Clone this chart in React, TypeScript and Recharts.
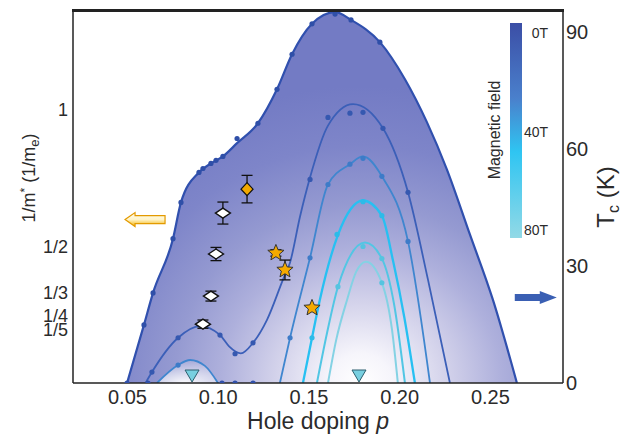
import React from 'react'
import { ComposedChart, Line, Area, Scatter, XAxis, YAxis, ErrorBar, ReferenceDot, Customized } from 'recharts'

// Tc (K) versus hole doping p, one contour per magnetic field (0T outermost)
const dome0T = [[0.0498, 0], [0.0591, 14.9], [0.0641, 23.1], [0.0751, 37.0], [0.0795, 46.3], [0.0894, 54.0], [0.096, 56.3], [0.1026, 58.1], [0.1104, 61.5], [0.1219, 66.6], [0.1324, 75.3], [0.1407, 84.3], [0.1517, 92.1], [0.1644, 95.1], [0.1732, 93.1], [0.1891, 87.4], [0.2029, 77.9], [0.215, 66.9], [0.226, 54.8], [0.2387, 38.1], [0.2514, 21.3], [0.2646, 0]]
const domeC1 = [[0.06, 0], [0.0635, 2.8], [0.0779, 11.6], [0.09, 14.6], [0.101, 12.3], [0.106, 9.4], [0.1125, 7.6], [0.1192, 10.3], [0.1269, 16.2], [0.1357, 26.5], [0.1396, 30.9], [0.1451, 42.7], [0.1506, 52.7], [0.1605, 66.0], [0.1743, 71.5], [0.1908, 65.3], [0.2046, 48.9], [0.2156, 26.5], [0.2277, 0]]
const lobeC2 = [[0.0663, 0], [0.0779, 4.6], [0.0845, 5.9], [0.0927, 4.4], [0.0999, 0]]
const domeC2 = [[0.134, 0], [0.1396, 11.6], [0.1506, 32.1], [0.1605, 50.9], [0.1726, 56.1], [0.1798, 58.1], [0.1902, 53.0], [0.2046, 36.3], [0.2167, 0]]
const domeC3 = [[0.1467, 0], [0.1517, 11.6], [0.156, 21.3], [0.166, 38.0], [0.1798, 46.8], [0.1902, 42.9], [0.1965, 31.0], [0.2025, 17.0], [0.2084, 0]]
const domeC4 = [[0.1544, 0], [0.16, 12.9], [0.166, 24.7], [0.1809, 36.0], [0.1902, 31.9], [0.197, 20.0], [0.2029, 0]]
const domeC5 = [[0.1605, 0], [0.165, 11.0], [0.171, 21.3], [0.176, 28.5], [0.1814, 31.1], [0.1902, 25.7], [0.1958, 13.6], [0.199, 0]]

// measured Tc points on each contour
const dots0T = [[0.0591, 14.9], [0.0641, 23.1], [0.0751, 37.0], [0.0795, 46.3], [0.0894, 54.0], [0.0916, 55.0], [0.096, 56.3], [0.0988, 57.1], [0.1026, 58.1], [0.1104, 62.7], [0.1219, 66.6], [0.1324, 75.3], [0.1407, 84.3], [0.1517, 92.1], [0.1644, 94.6], [0.1732, 93.1], [0.1891, 87.4]]
const dotsC1 = [[0.0635, 2.8], [0.0779, 11.6], [0.101, 12.3], [0.1093, 7.5], [0.1192, 10.3], [0.1506, 52.2], [0.1605, 68.1], [0.1726, 69.2], [0.1798, 69.4], [0.1908, 65.3], [0.2046, 48.9]]
const dotsC2 = [[0.0779, 4.6], [0.1396, 11.6], [0.1506, 32.1], [0.1605, 50.9], [0.1726, 56.1], [0.1798, 57.6], [0.1902, 53.0], [0.2046, 36.3]]
const dotsC3 = [[0.1517, 11.6], [0.1655, 38.1], [0.1798, 46.5], [0.1902, 42.9]]
const dotsC4 = [[0.166, 24.7], [0.1798, 35.0], [0.1902, 31.9], [0.1902, 25.7]]
const dotsZero = [[0.0498, 0], [0.0613, 0], [0.1021, 0], [0.1093, 0], [0.1192, 0]]
const triangles = [[0.0856, 0], [0.1776, 0]]

// 1/m* (left axis) with error
const whiteDiamonds = [[0.1026, 0.623, 0.04], [0.0988, 0.474, 0.024], [0.096, 0.321, 0.018], [0.0916, 0.219, 0.015]]
const orangeDiamonds = [[0.1159, 0.71, 0.05]]
const starsErr = [[0.1318, 0.478, 0.012], [0.1368, 0.416, 0.036]]
const starsNoErr = [[0.1517, 0.278]]

const pTicks = [0.05, 0.1, 0.15, 0.2, 0.25]
const tcTicks = [0, 30, 60, 90]
const massTicks = [0.2, 0.25, 1 / 3, 0.5, 1]
const massLabels = ['1/5', '1/4', '1/3', '1/2', '1']

const tc = (rows: number[][]) => rows.map(([p, T]) => ({ p, T }))
const mass = (rows: number[][]) => rows.map(([p, m, err]) => ({ p, m, err }))

const FONT = "'Liberation Sans', Arial, sans-serif"
const INK = '#2b2b2b'
const AXIS = { stroke: '#222', strokeWidth: 1.5 }

const dotShape = (fill: string) => (props: any) => <circle cx={props.cx} cy={props.cy} r={2.6} fill={fill} />

function Diamond(props: any) {
  const { cx, cy } = props
  return <polygon points={`${cx - 7.5},${cy} ${cx},${cy - 5} ${cx + 7.5},${cy} ${cx},${cy + 5}`} fill="#fff" stroke="#111" strokeWidth={1.4} />
}

function OrangeDiamond(props: any) {
  const { cx, cy } = props
  return <polygon points={`${cx - 6},${cy} ${cx},${cy - 6.5} ${cx + 6},${cy} ${cx},${cy + 6.5}`} fill="#f2a900" stroke="#111" strokeWidth={1.2} />
}

function Star(props: any) {
  const { cx, cy } = props
  const pts: string[] = []
  for (let i = 0; i < 10; i++) {
    const r = i % 2 === 0 ? 8.5 : 3.8
    const a = -Math.PI / 2 + (i * Math.PI) / 5
    pts.push(`${cx + r * Math.cos(a)},${cy + r * Math.sin(a)}`)
  }
  return <polygon points={pts.join(' ')} fill="#f5aa00" stroke="#333" strokeWidth={1} />
}

function Triangle(props: any) {
  const { cx, cy } = props
  return <polygon points={`${cx - 7},${cy - 13} ${cx + 7},${cy - 13} ${cx},${cy - 1}`} fill="#78cfe0" stroke="#2d5f6e" strokeWidth={1} />
}

function LeftArrow(props: any) {
  const { cx, cy } = props
  return (
    <path
      d={`M${cx - 20},${cy} L${cx - 10},${cy - 7} L${cx - 10},${cy - 4} L${cx + 20},${cy - 4} L${cx + 20},${cy + 4} L${cx - 10},${cy + 4} L${cx - 10},${cy + 7} Z`}
      fill="url(#arrowGold)"
      stroke="#e39a00"
      strokeWidth={1.2}
    />
  )
}

function RightArrow(props: any) {
  const { cx, cy } = props
  return (
    <path
      d={`M${cx + 21},${cy} L${cx + 4},${cy - 6.5} L${cx + 4},${cy - 3.5} L${cx - 21},${cy - 3.5} L${cx - 21},${cy + 3.5} L${cx + 4},${cy + 3.5} L${cx + 4},${cy + 6.5} Z`}
      fill="#3a5fb3"
    />
  )
}

function Annotations() {
  return (
    <g fontFamily={FONT} fill={INK}>
      <rect x={510} y={23} width={12} height={215} fill="url(#fieldBar)" />
      <text x={548} y={38} fontSize={14} textAnchor="end">0T</text>
      <text x={548} y={137} fontSize={14} textAnchor="end">40T</text>
      <text x={548} y={235} fontSize={14} textAnchor="end">80T</text>
      <text x={0} y={0} fontSize={16} textAnchor="middle" transform="translate(500,130) rotate(-90)">Magnetic field</text>
      <text x={318} y={429} fontSize={23} textAnchor="middle">
        Hole doping <tspan fontStyle="italic">p</tspan>
      </text>
      <text x={0} y={0} fontSize={18} textAnchor="middle" transform="translate(35,178) rotate(-90)">
        1/m<tspan dy={-6} fontSize={12}>*</tspan>
        <tspan dy={6}> (1/m</tspan>
        <tspan dy={4} fontSize={13}>e</tspan>
        <tspan dy={-4}>)</tspan>
      </text>
      <text x={0} y={0} fontSize={24} textAnchor="middle" transform="translate(614,197) rotate(-90)">
        T<tspan dy={5} fontSize={16}>c</tspan>
        <tspan dy={-5}> (K)</tspan>
      </text>
    </g>
  )
}

export default function App() {
  return (
    <div style={{ position: 'absolute', left: 0, top: 0, width: 623, height: 437, background: '#fff' }}>
      <ComposedChart width={623} height={437} margin={{ top: 9, right: 15, bottom: 0, left: 18 }}>
        <defs>
          <radialGradient id="domeFill" cx={0.6} cy={1} r={0.8} fx={0.6} fy={1}>
            <stop offset="0" stopColor="#ffffff" />
            <stop offset="0.1" stopColor="#f6f5fb" />
            <stop offset="0.27" stopColor="#d4d3eb" />
            <stop offset="0.45" stopColor="#aeb0dc" />
            <stop offset="0.6" stopColor="#959ad1" />
            <stop offset="0.8" stopColor="#7e85c9" />
            <stop offset="1" stopColor="#737bc4" />
          </radialGradient>
          <radialGradient id="lobeGlow" cx={0.45} cy={1} r={1.1}>
            <stop offset="0" stopColor="#ffffff" stopOpacity={0.95} />
            <stop offset="1" stopColor="#ffffff" stopOpacity={0} />
          </radialGradient>
          <linearGradient id="fieldBar" x1="0" y1="0" x2="0" y2="1">
            <stop offset="0" stopColor="#3b4ea6" />
            <stop offset="0.35" stopColor="#4a80cc" />
            <stop offset="0.6" stopColor="#2fc5f2" />
            <stop offset="1" stopColor="#92d9e6" />
          </linearGradient>
          <linearGradient id="arrowGold" x1="0" y1="0" x2="0" y2="1">
            <stop offset="0" stopColor="#fffdf2" />
            <stop offset="0.5" stopColor="#fff4c8" />
            <stop offset="1" stopColor="#f3b000" />
          </linearGradient>
        </defs>

        <XAxis
          type="number"
          dataKey="p"
          domain={[0.02, 0.29]}
          allowDataOverflow
          ticks={pTicks}
          interval={0}
          tickFormatter={(v) => v.toFixed(2)}
          tickLine={false}
          tickSize={0}
          tickMargin={7}
          height={54}
          axisLine={AXIS}
          tick={{ fill: INK, fontSize: 20, fontFamily: FONT }}
        />
        <YAxis
          yAxisId="m"
          dataKey="m"
          type="number"
          domain={[0.005, 1.365]}
          allowDataOverflow
          ticks={massTicks}
          interval={0}
          tickFormatter={(v) => massLabels[massTicks.indexOf(v)] ?? ''}
          tickLine={false}
          tickSize={0}
          tickMargin={5}
          width={55}
          axisLine={AXIS}
          tick={{ fill: INK, fontSize: 18, fontFamily: FONT }}
        />
        <YAxis
          yAxisId="T"
          dataKey="T"
          orientation="right"
          type="number"
          domain={[0, 95.9]}
          allowDataOverflow
          ticks={tcTicks}
          interval={0}
          tickLine={false}
          tickSize={0}
          tickMargin={3}
          width={45}
          axisLine={AXIS}
          tick={{ fill: INK, fontSize: 20, fontFamily: FONT }}
        />

        <Area yAxisId="T" data={tc(dome0T)} dataKey="T" type="monotone" fill="url(#domeFill)" fillOpacity={1} stroke="#3050ae" strokeWidth={2.2} isAnimationActive={false} />
        <Area yAxisId="T" data={tc(lobeC2)} dataKey="T" type="monotone" fill="url(#lobeGlow)" fillOpacity={1} stroke="none" isAnimationActive={false} />
        <Line yAxisId="T" data={tc(domeC1)} dataKey="T" type="monotone" stroke="#3b5fb8" strokeWidth={1.8} dot={false} isAnimationActive={false} />
        <Line yAxisId="T" data={tc(lobeC2)} dataKey="T" type="monotone" stroke="#3f86cf" strokeWidth={1.8} dot={false} isAnimationActive={false} />
        <Line yAxisId="T" data={tc(domeC2)} dataKey="T" type="monotone" stroke="#3f86cf" strokeWidth={1.8} dot={false} isAnimationActive={false} />
        <Line yAxisId="T" data={tc(domeC3)} dataKey="T" type="monotone" stroke="#27c0f2" strokeWidth={2.3} dot={false} isAnimationActive={false} />
        <Line yAxisId="T" data={tc(domeC4)} dataKey="T" type="monotone" stroke="#52c6e4" strokeWidth={2} dot={false} isAnimationActive={false} />
        <Line yAxisId="T" data={tc(domeC5)} dataKey="T" type="monotone" stroke="#84d2e4" strokeWidth={2} dot={false} isAnimationActive={false} />

        <Scatter yAxisId="T" data={tc(dots0T)} shape={dotShape('#2f4fa8')} isAnimationActive={false} />
        <Scatter yAxisId="T" data={tc(dotsC1)} shape={dotShape('#3558b0')} isAnimationActive={false} />
        <Scatter yAxisId="T" data={tc(dotsC2)} shape={dotShape('#3d7bc8')} isAnimationActive={false} />
        <Scatter yAxisId="T" data={tc(dotsC3)} shape={dotShape('#2cbbe8')} isAnimationActive={false} />
        <Scatter yAxisId="T" data={tc(dotsC4)} shape={dotShape('#55c4e0')} isAnimationActive={false} />
        <Scatter yAxisId="T" data={tc(dotsZero)} shape={dotShape('#2f4fa8')} isAnimationActive={false} />
        <Scatter yAxisId="T" data={tc(triangles)} shape={Triangle} isAnimationActive={false} />

        <Scatter yAxisId="m" data={mass(whiteDiamonds)} shape={Diamond} isAnimationActive={false}>
          <ErrorBar dataKey="err" direction="y" width={5.5} stroke="#111" strokeWidth={1.3} />
        </Scatter>
        <Scatter yAxisId="m" data={mass(orangeDiamonds)} shape={OrangeDiamond} isAnimationActive={false}>
          <ErrorBar dataKey="err" direction="y" width={5.5} stroke="#111" strokeWidth={1.3} />
        </Scatter>
        <Scatter yAxisId="m" data={mass(starsErr)} shape={Star} isAnimationActive={false}>
          <ErrorBar dataKey="err" direction="y" width={5.5} stroke="#111" strokeWidth={1.3} />
        </Scatter>
        <Scatter yAxisId="m" data={mass(starsNoErr)} shape={Star} isAnimationActive={false} />

        <ReferenceDot yAxisId="T" x={0.0597} y={41.9} shape={LeftArrow} />
        <ReferenceDot yAxisId="T" x={0.275} y={21.9} shape={RightArrow} />
        <Customized component={Annotations} />
      </ComposedChart>
      {/* top edge of the plot frame */}
      <div style={{ position: 'absolute', left: 72, top: 9, width: 492, height: 3, background: '#222' }} />
    </div>
  )
}
